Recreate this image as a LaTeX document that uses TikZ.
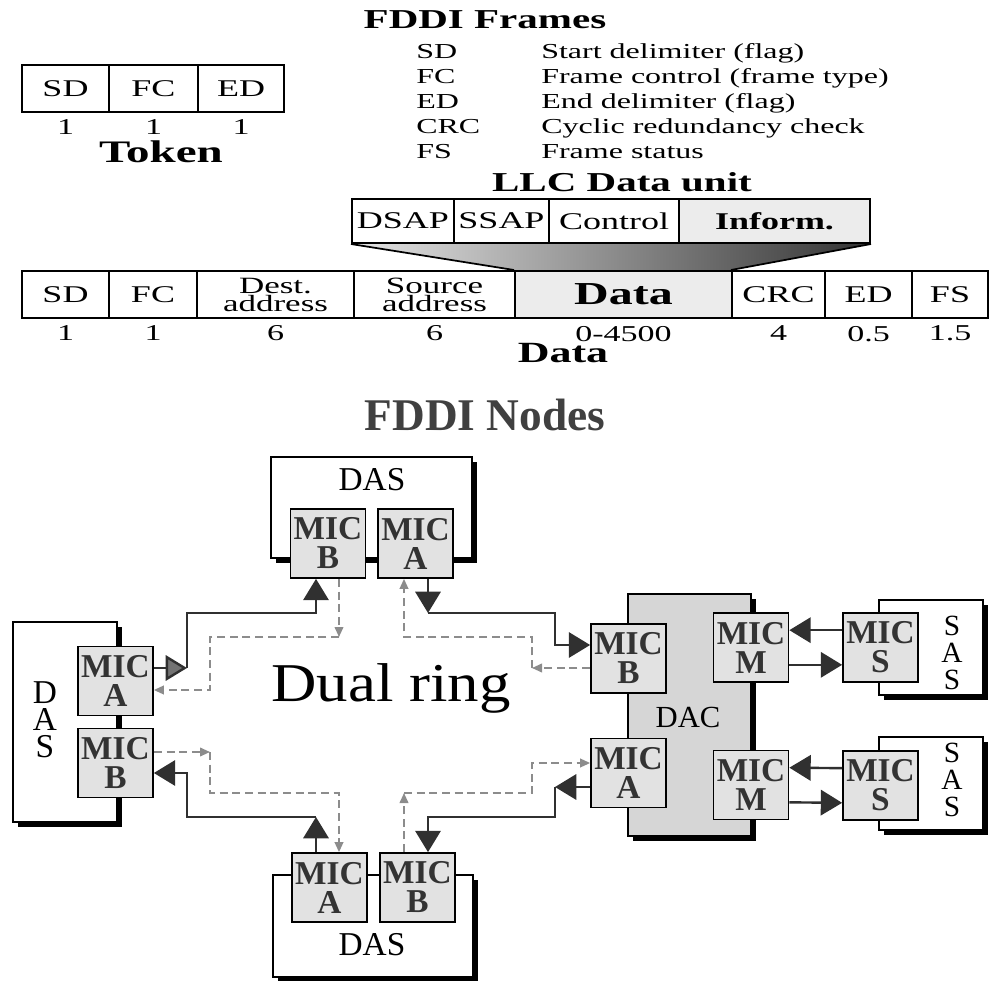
\documentclass[tikz,border=0pt]{standalone}
\usepackage{fontspec}
\setmainfont{Liberation Serif}
\newfontfamily\wideserif{Liberation Serif}[FakeStretch=1.5]
\newfontfamily\ringserif{Liberation Serif}[FakeStretch=1.15]
\usetikzlibrary{arrows.meta, positioning, fit, shadows, backgrounds}
\definecolor{micgray}{RGB}{226,226,226}
\definecolor{dacgray}{RGB}{214,214,214}
\definecolor{cellgray}{RGB}{236,236,236}
\definecolor{ringdark}{RGB}{48,48,48}
\definecolor{ringgray}{RGB}{140,140,140}
\definecolor{tipgray}{RGB}{115,115,115}

\begin{document}
\begin{tikzpicture}[x=0.75pt, y=-0.75pt,
  cell/.style={draw, line width=1.5pt, inner sep=0pt},
  celltext/.style={inner sep=0pt, align=center, font=\wideserif\fontsize{18}{14}\selectfont},
  twoline/.style={celltext, font=\wideserif\fontsize{17.5}{13.5}\selectfont},
  boldtext/.style={celltext, font=\wideserif\bfseries\fontsize{#1}{#1}\selectfont},
  num/.style={inner sep=0pt, font=\wideserif\fontsize{17}{17}\selectfont},
  head/.style={inner sep=0pt, font=\wideserif\bfseries\fontsize{20.5}{20.5}\selectfont},
  legend/.style={inner sep=0pt, anchor=base west, font=\wideserif\fontsize{16}{16}\selectfont},
  station/.style={draw, fill=white, line width=1.4pt, inner sep=0pt, general shadow={fill=black, shadow xshift=3.5pt, shadow yshift=-3.5pt}},
  mic/.style={draw, fill=micgray, line width=1.3pt, inner sep=0pt, minimum width=56.25pt, minimum height=51.75pt, align=center, text=black!80, font=\bfseries\fontsize{25}{21.75}\selectfont},
  tag/.style={inner sep=0pt, align=center, font=\fontsize{25}{20.25}\selectfont},
  ring/.style={draw=ringdark, line width=1.8pt, -{Triangle[length=16pt, width=19pt, fill=ringdark]}},
  backup/.style={draw=ringgray, line width=1.3pt, dash pattern=on 6pt off 3.5pt, -{Triangle[length=7.5pt, width=6.5pt, fill=ringgray]}}]
 \useasboundingbox (0,0) rectangle (990,981);

 \node[head] (frames) at (485,20) {FDDI Frames};
 \foreach \y/\ab/\txt in {52/SD/Start delimiter (flag), 77/FC/Frame control (frame type), 102/ED/End delimiter (flag), 127/CRC/Cyclic redundancy check, 152/FS/Frame status}{
   \node[legend] (ab-\ab) at (416,\y+7) {\ab};
   \node[legend] (txt-\ab) at (541,\y+7) {\txt};
 }

 \foreach \n/\xa/\xb/\t/\v in {tsd/22/109/SD/1, tfc/109/198/FC/1, ted/198/284/ED/1}{
   \node[cell, fit={(\xa,65) (\xb,112)}, label={[celltext]center:\t}] (\n) {};
   \node[num, below=5pt of \n] (\n-n) {\v};
 }
 \node[head, font=\wideserif\bfseries\fontsize{23.5}{23.5}\selectfont] (token) at (161,152) {Token};

 \node[head] (llc) at (622,182) {LLC Data unit};
 \foreach \n/\xa/\xb/\t in {dsap/352/454/DSAP, ssap/454/549/SSAP, ctrl/549/679/Control}{
   \node[cell, fit={(\xa,199) (\xb,243)}, label={[celltext]center:\t}] (\n) {};
 }
 \node[cell, fill=cellgray, fit={(679,199) (870,243)}, label={[boldtext=18]center:Inform.}] (inform) {};

 \foreach \n/\xa/\xb/\t/\v in {dsd/22/109/SD/1, dfc/109/197/FC/1, crc/732/825/CRC/4, ed/825/912/ED/0.5, fs/912/988/FS/1.5}{
   \node[cell, fit={(\xa,271) (\xb,318)}, label={[celltext]center:\t}] (\n) {};
   \node[num, below=5pt of \n] (\n-n) {\v};
 }
 \node[cell, fit={(197,271) (354,318)}, label={[twoline]center:Dest.\\address}] (dst) {};
 \node[num, below=5pt of dst] (dst-n) {6};
 \node[cell, fit={(354,271) (515,318)}, label={[twoline]center:Source\\address}] (src) {};
 \node[num, below=5pt of src] (src-n) {6};
 \node[cell, fill=cellgray, fit={(515,271) (732,318)}, label={[boldtext=24]center:Data}] (data) {};
 \node[num, below=5pt of data] (data-n) {0-4500};
 \node[head, font=\wideserif\bfseries\fontsize{22}{22}\selectfont] (datalbl) at (563,353) {Data};

 \begin{scope}[on background layer]
   \shade[left color=black!10, right color=black!80] (dsap.south west) -- (inform.south east) -- (crc.north west) -- (data.north west) -- cycle;
   \draw[line width=1.3pt] (dsap.south west) -- (data.north west) (inform.south east) -- (crc.north west);
 \end{scope}

 \node[font=\bfseries\fontsize{34}{34}\selectfont, text=black!75] (nodes) at (485,415) {FDDI Nodes};
 \node[font=\ringserif\fontsize{41}{41}\selectfont] (dual) at (391,688) {Dual ring};

 \node[station, fit={(271,457) (472,558)}] (tdas) {};
 \node[station, fit={(13,622) (117,822)}] (ldas) {};
 \node[station, fit={(273,875) (473,977)}] (bdas) {};
 \node[station, fill=dacgray, fit={(628,594) (751,836)}] (dac) {};
 \node[station, fit={(879,600) (983,695)}] (sas1) {};
 \node[station, fit={(879,737) (983,830)}] (sas2) {};
 \node[tag] (tdas-l) at (372,480) {DAS};
 \node[tag] (ldas-l) at (45,720) {D\\A\\S};
 \node[tag] (bdas-l) at (372,945) {DAS};
 \node[tag, font=\fontsize{23}{23}\selectfont] (dac-l) at (688,717) {DAC};
 \node[tag, font=\fontsize{22}{20.25}\selectfont] (sas1-l) at (952,653) {S\\A\\S};
 \node[tag, font=\fontsize{22}{20.25}\selectfont] (sas2-l) at (952,780) {S\\A\\S};

 \foreach \n/\x/\y/\t in {tb/328/543.5/B, ta/415.5/543.5/A, la/115.5/681/A, lb/115.5/763/B, ba/329.5/887.5/A, bb/417.5/887.5/B, db/628.5/658.5/B, da/628.5/773/A, mm/751/647.5/M, mn/751/785/M, ss/880.5/647.5/S, st/880.5/785.5/S}{
   \node[mic] (\n) at (\x,\y) {MIC\\\t};
 }

 \coordinate (s1) at (187,668); \coordinate (s1t) at (316,613);
 \coordinate (s2) at (428,613); \coordinate (s2t) at (555,645);
 \coordinate (s3) at (555,787); \coordinate (s3t) at (428,817);
 \coordinate (s4) at (316,817); \coordinate (s4t) at (187,773);
 \coordinate (d1) at (339,637); \coordinate (d1t) at (210,690);
 \coordinate (d2) at (210,752); \coordinate (d2t) at (339,793);
 \coordinate (d3) at (404,793); \coordinate (d3t) at (532,763);
 \coordinate (d4) at (532,668); \coordinate (d4t) at (404,637);

 \draw[ring, -{Triangle[length=16pt, width=19pt, fill=tipgray]}] (la.east |- s1) -- (s1);
 \draw[ring] (s1) |- (s1t) -- (tb.south -| s1t);
 \draw[ring] (ta.south -| s2) -- (s2);
 \draw[ring] (s2) -| (s2t) -- (db.west |- s2t);
 \draw[ring] (da.west |- s3) -- (s3);
 \draw[ring] (s3) |- (s3t) -- (bb.north -| s3t);
 \draw[ring] (ba.north -| s4) -- (s4);
 \draw[ring] (s4) -| (s4t) -- (lb.east |- s4t);

 \draw[backup] (tb.south -| d1) -- (d1);
 \draw[backup] (d1) -| (d1t) -- (la.east |- d1t);
 \draw[backup] (lb.east |- d2) -- (d2);
 \draw[backup] (d2) |- (d2t) -- (ba.north -| d2t);
 \draw[backup] (bb.north -| d3) -- (d3);
 \draw[backup] (d3) -| (d3t) -- (da.west |- d3t);
 \draw[backup] (db.west |- d4) -- (d4);
 \draw[backup] (d4) |- (d4t) -- (ta.south -| d4t);

 \draw[ring] ([yshift=13pt]ss.west) -- ([yshift=13pt]mm.east);
 \draw[ring] ([yshift=-13pt]mm.east) -- ([yshift=-13pt]ss.west);
 \draw[ring] ([yshift=13pt]st.west) -- ([yshift=13pt]mn.east);
 \draw[ring] ([yshift=-13pt]mn.east) -- ([yshift=-13pt]st.west);
\end{tikzpicture}
\end{document}
